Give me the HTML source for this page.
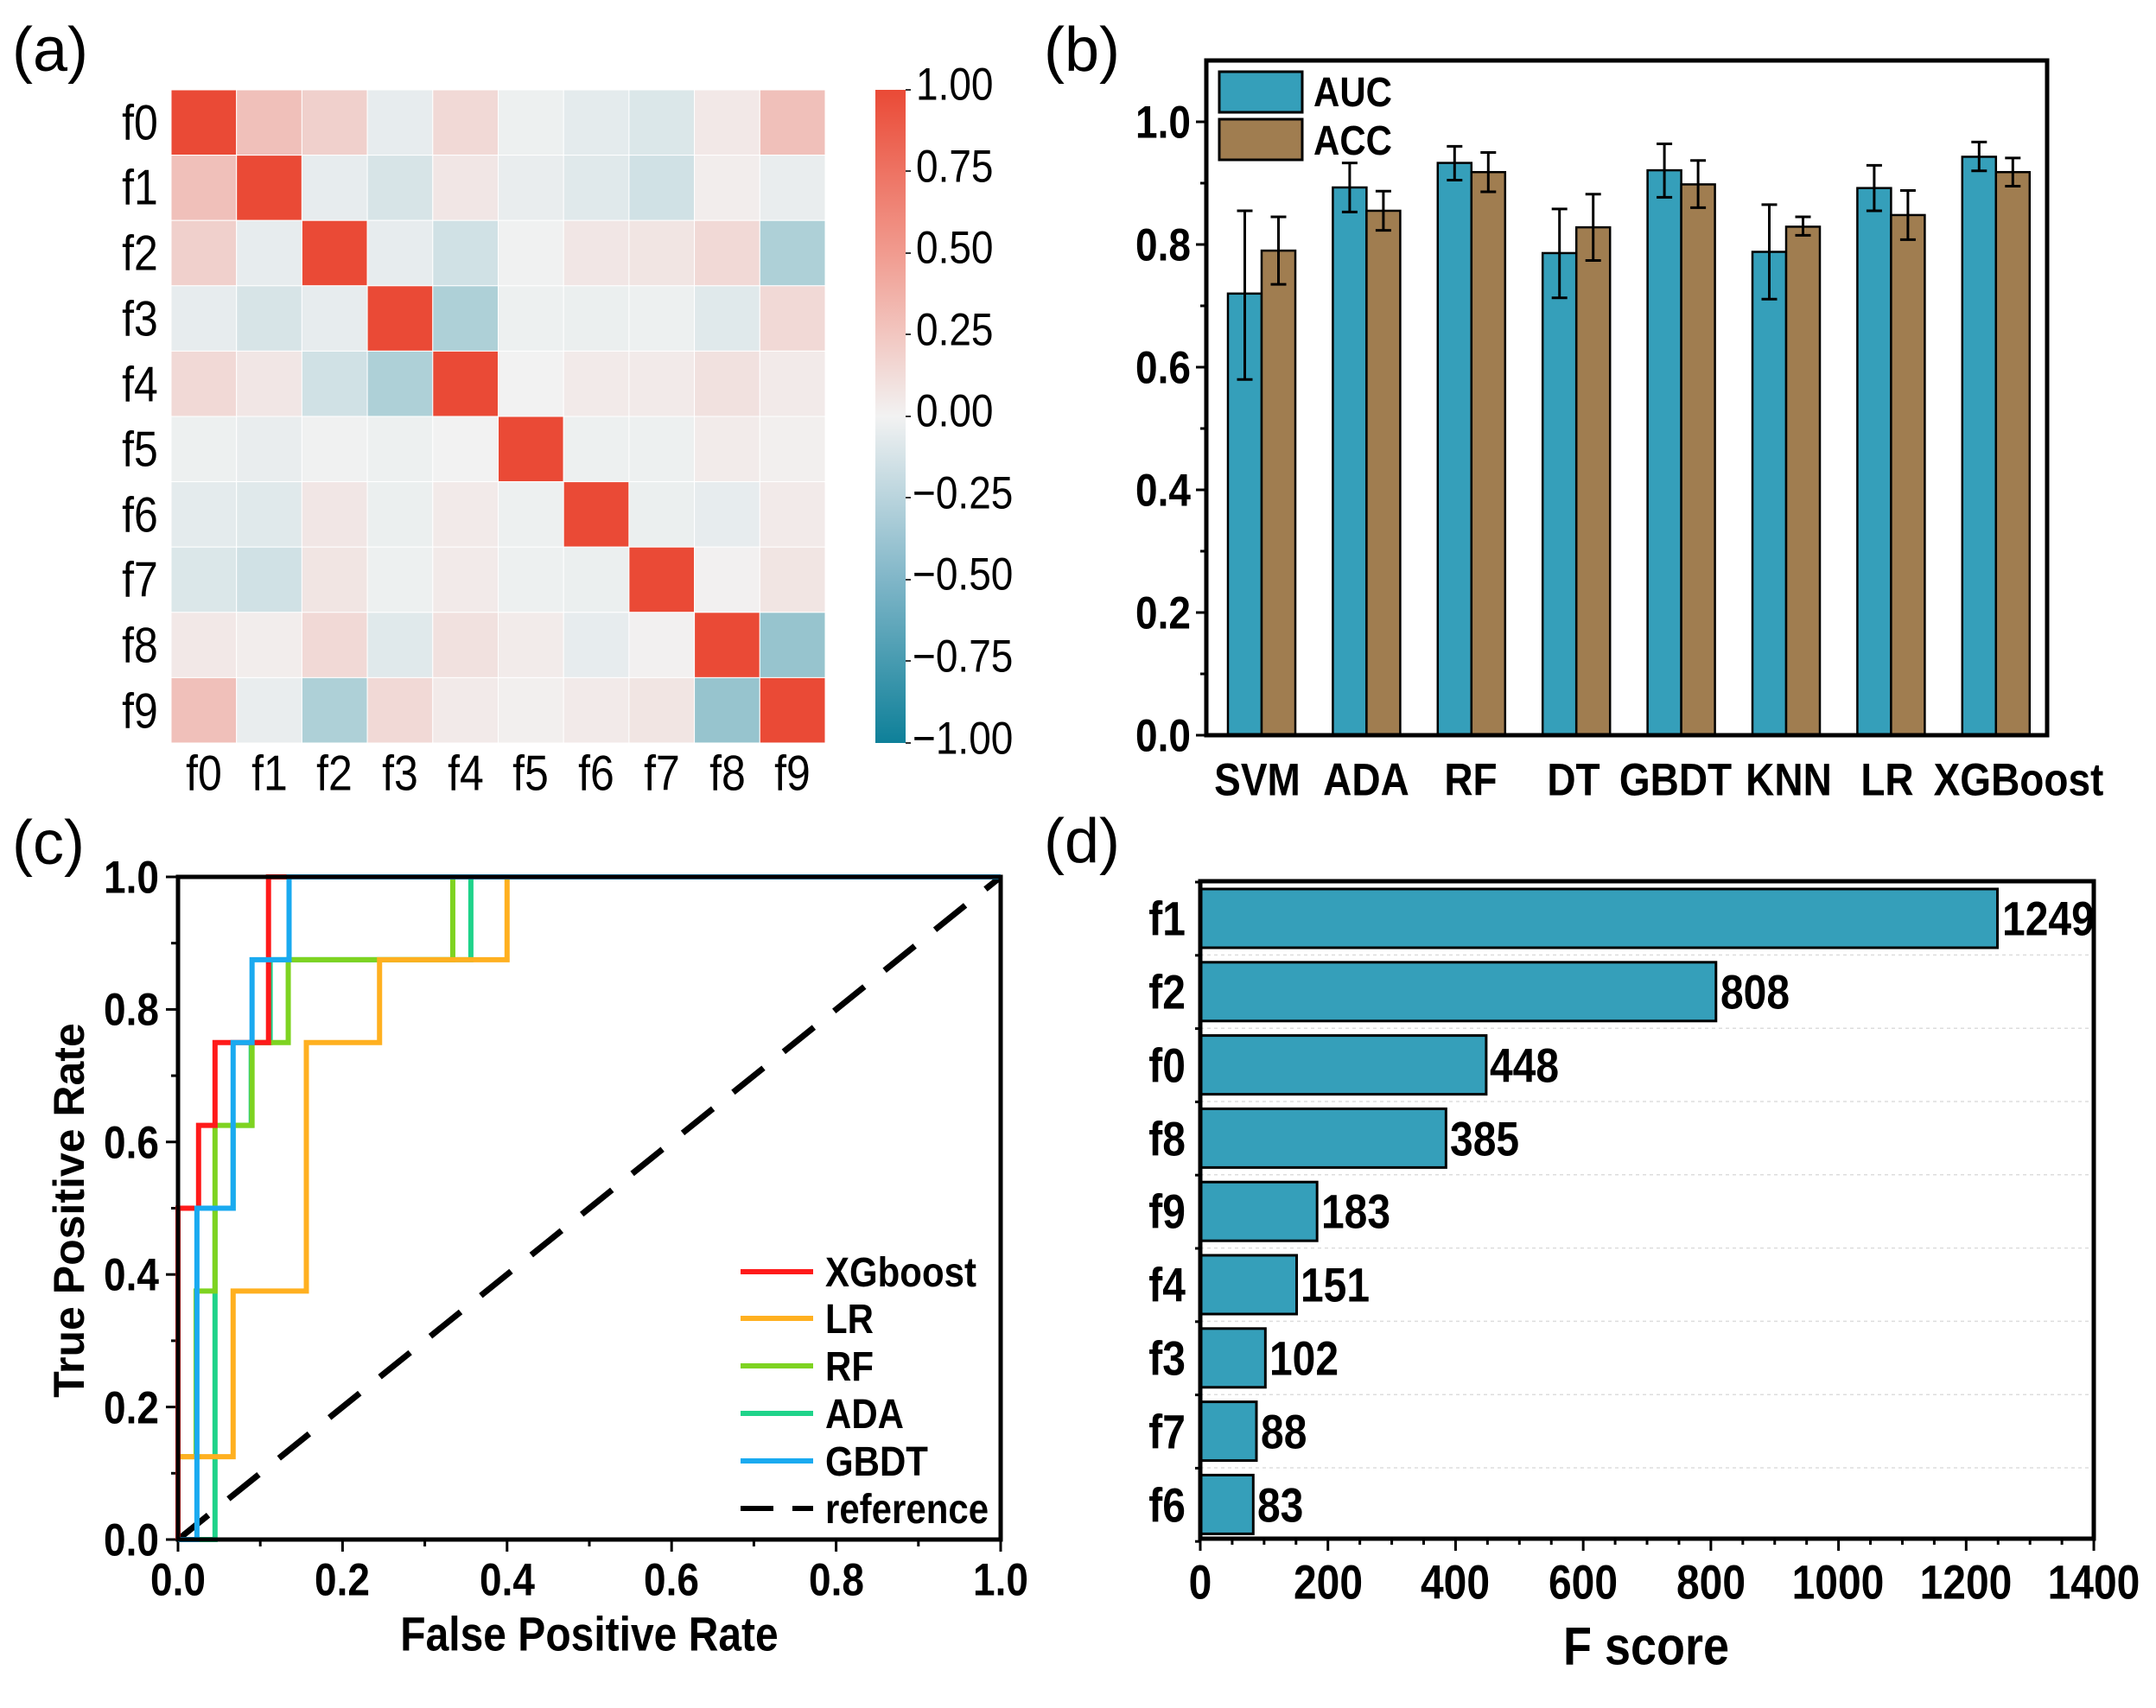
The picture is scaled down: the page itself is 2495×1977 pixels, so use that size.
<!DOCTYPE html>
<html><head><meta charset="utf-8"><style>
html,body{margin:0;padding:0;background:#fff}
svg{display:block}
text{font-family:"Liberation Sans",Arial,sans-serif}
.b{font-weight:bold}
svg text:not(.p):not(.r){transform-box:fill-box;transform-origin:center;transform:scaleY(1.15)}
</style></head><body>
<svg id="s" width="2495" height="1977" viewBox="0 0 2495 1977" xmlns="http://www.w3.org/2000/svg">
<defs>
<linearGradient id="cb" x1="0" y1="0" x2="0" y2="1">
<stop offset="0" stop-color="#ea4a36"/><stop offset="0.25" stop-color="#f19b8f"/>
<stop offset="0.5" stop-color="#f2f2f2"/><stop offset="0.75" stop-color="#80b6c8"/>
<stop offset="1" stop-color="#0e8099"/>
</linearGradient>
</defs>
<rect width="2495" height="1977" fill="#fff"/>
<!-- panel labels -->
<text class="p" x="14" y="82" font-size="72">(a)</text>
<text class="p" x="1208" y="82" font-size="72">(b)</text>
<text class="p" x="14" y="1000" font-size="72">(c)</text>
<text class="p" x="1208" y="998" font-size="72">(d)</text>

<!-- heatmap -->
<g id="hm"></g>
<g font-size="50" text-anchor="middle">
<text x="162" y="159">f0</text><text x="162" y="234">f1</text><text x="162" y="310">f2</text><text x="162" y="386">f3</text><text x="162" y="462">f4</text><text x="162" y="537">f5</text><text x="162" y="613">f6</text><text x="162" y="688">f7</text><text x="162" y="764">f8</text><text x="162" y="840">f9</text>
<text x="236" y="912">f0</text><text x="312" y="912">f1</text><text x="387" y="912">f2</text><text x="463" y="912">f3</text><text x="539" y="912">f4</text><text x="614" y="912">f5</text><text x="690" y="912">f6</text><text x="766" y="912">f7</text><text x="842" y="912">f8</text><text x="917" y="912">f9</text>
</g>
<rect x="1013" y="104" width="35" height="756" fill="url(#cb)"/>
<g font-size="46">
<text x="1060" y="113">1.00</text><text x="1060" y="208">0.75</text><text x="1060" y="302">0.50</text><text x="1060" y="397">0.25</text><text x="1060" y="491">0.00</text>
<text x="1056" y="586">−0.25</text><text x="1056" y="680">−0.50</text><text x="1056" y="775">−0.75</text><text x="1056" y="870">−1.00</text>
</g>
<g stroke="#333" stroke-width="2"><line x1="1048" y1="104" x2="1054" y2="104"/><line x1="1048" y1="198" x2="1054" y2="198"/><line x1="1048" y1="293" x2="1054" y2="293"/><line x1="1048" y1="387" x2="1054" y2="387"/><line x1="1048" y1="482" x2="1054" y2="482"/><line x1="1048" y1="576" x2="1054" y2="576"/><line x1="1048" y1="671" x2="1054" y2="671"/><line x1="1048" y1="765" x2="1054" y2="765"/><line x1="1048" y1="860" x2="1054" y2="860"/></g>

<!-- panel b -->
<g id="pb"></g>
<rect x="1396" y="70" width="973" height="781" fill="none" stroke="#000" stroke-width="5"/>
<g class="b" font-size="46" text-anchor="end">
<text x="1378" y="867">0.0</text><text x="1378" y="725">0.2</text><text x="1378" y="583">0.4</text><text x="1378" y="441">0.6</text><text x="1378" y="299">0.8</text><text x="1378" y="157">1.0</text>
</g>
<g class="b" font-size="46" text-anchor="middle">
<text x="1455" y="918">SVM</text><text x="1581" y="918">ADA</text><text x="1702" y="918">RF</text><text x="1821" y="918">DT</text><text x="1939" y="918">GBDT</text><text x="2070" y="918">KNN</text><text x="2184" y="918">LR</text><text x="2336" y="918">XGBoost</text>
</g>
<rect x="1411" y="83" width="96" height="47" fill="#359fba" stroke="#000" stroke-width="3"/>
<rect x="1411" y="138" width="96" height="47" fill="#a07d50" stroke="#000" stroke-width="3"/>
<text class="b" x="1520" y="121" font-size="42">AUC</text>
<text class="b" x="1520" y="177" font-size="42">ACC</text>

<!-- panel c -->
<g id="pc"></g>
<rect x="206" y="1015" width="952" height="767" fill="none" stroke="#000" stroke-width="5"/>
<g class="b" font-size="46" text-anchor="end">
<text x="184" y="1798">0.0</text><text x="184" y="1645">0.2</text><text x="184" y="1491">0.4</text><text x="184" y="1338">0.6</text><text x="184" y="1184">0.8</text><text x="184" y="1031">1.0</text>
</g>
<g class="b" font-size="46" text-anchor="middle">
<text x="206" y="1844">0.0</text><text x="396" y="1844">0.2</text><text x="587" y="1844">0.4</text><text x="777" y="1844">0.6</text><text x="968" y="1844">0.8</text><text x="1158" y="1844">1.0</text>
</g>
<text class="b" x="682" y="1908" font-size="48" text-anchor="middle">False Positive Rate</text>
<text class="b r" x="0" y="0" font-size="50" text-anchor="middle" transform="translate(97,1401) rotate(-90)">True Positive Rate</text>
<g stroke-width="6">
<line x1="857" y1="1472" x2="941" y2="1472" stroke="#ff1a1a"/>
<line x1="857" y1="1526" x2="941" y2="1526" stroke="#ffb020"/>
<line x1="857" y1="1581" x2="941" y2="1581" stroke="#7ed321"/>
<line x1="857" y1="1636" x2="941" y2="1636" stroke="#1fd38a"/>
<line x1="857" y1="1691" x2="941" y2="1691" stroke="#1aaaf0"/>
<line x1="857" y1="1746" x2="941" y2="1746" stroke="#000" stroke-dasharray="38 22"/>
</g>
<g class="b" font-size="42">
<text x="955" y="1487">XGboost</text><text x="955" y="1541">LR</text><text x="955" y="1596">RF</text><text x="955" y="1651">ADA</text><text x="955" y="1706">GBDT</text><text x="955" y="1761">reference</text>
</g>

<!-- panel d -->
<g id="pd"></g>
<rect x="1389" y="1020" width="1034" height="761" fill="none" stroke="#000" stroke-width="5"/>
<g class="b" font-size="48" text-anchor="end">
<text x="1372" y="1080">f1</text><text x="1372" y="1165">f2</text><text x="1372" y="1250">f0</text><text x="1372" y="1335">f8</text><text x="1372" y="1419">f9</text><text x="1372" y="1504">f4</text><text x="1372" y="1589">f3</text><text x="1372" y="1674">f7</text><text x="1372" y="1759">f6</text>
</g>
<g class="b" font-size="48">
<text x="2317" y="1080">1249</text><text x="1991" y="1165">808</text><text x="1724" y="1250">448</text><text x="1678" y="1335">385</text><text x="1529" y="1419">183</text><text x="1505" y="1504">151</text><text x="1469" y="1589">102</text><text x="1459" y="1674">88</text><text x="1455" y="1759">83</text>
</g>
<g class="b" font-size="48" text-anchor="middle">
<text x="1389" y="1848">0</text><text x="1537" y="1848">200</text><text x="1684" y="1848">400</text><text x="1832" y="1848">600</text><text x="1980" y="1848">800</text><text x="2127" y="1848">1000</text><text x="2275" y="1848">1200</text><text x="2423" y="1848">1400</text>
</g>
<text class="b" x="1905" y="1924" font-size="54" text-anchor="middle">F score</text>
</svg>
<script>
var NS="http://www.w3.org/2000/svg";
function el(p,t,a){var e=document.createElementNS(NS,t);for(var k in a)e.setAttribute(k,a[k]);p.appendChild(e);return e;}
var M=[[1,.3,.2,-.05,.15,-.02,-.06,-.1,.06,.3],[.3,1,-.05,-.12,.07,-.04,-.08,-.15,.03,-.04],[.2,-.05,1,-.05,-.15,-.01,.07,.08,.15,-.3],[-.05,-.12,-.05,1,-.3,-.02,-.03,-.02,-.08,.15],[.15,.07,-.15,-.3,1,0,.05,.05,.1,.05],[-.02,-.04,-.01,-.02,0,1,-.02,-.02,.04,.02],[-.06,-.08,.07,-.03,.05,-.02,1,-.03,-.05,.05],[-.1,-.15,.08,-.02,.05,-.02,-.03,1,.01,.08],[.06,.03,.15,-.08,.1,.04,-.05,.01,1,-.4],[.3,-.04,-.3,.15,.05,.02,.05,.08,-.4,1]];
function col(v){var a=[242,242,242],b=v>=0?[234,74,54]:[14,128,153],t=Math.abs(v);
return "rgb("+a.map(function(x,i){return Math.round(x+(b[i]-x)*t)}).join(",")+")";}
var hm=document.getElementById("hm");
for(var r=0;r<10;r++)for(var c=0;c<10;c++)el(hm,"rect",{x:198+c*75.7,y:104+r*75.6,width:75.7,height:75.6,fill:col(M[r][c]),stroke:"#fff","stroke-width":1});
var pb=document.getElementById("pb");function yb(v){return 851-710*v;}
var D=[[.72,.58,.855,.79,.735,.845],[.893,.853,.933,.855,.823,.887],[.933,.905,.96,.918,.886,.95],[.786,.713,.858,.828,.774,.882],[.921,.877,.964,.898,.86,.937],[.788,.711,.865,.829,.815,.845],[.892,.855,.929,.848,.808,.888],[.943,.92,.967,.918,.895,.941]];
D.forEach(function(d,i){var x=1421+121.4*i;
[[x,d[0],d[1],d[2],"#359fba"],[x+39,d[3],d[4],d[5],"#a07d50"]].forEach(function(b){
el(pb,"rect",{x:b[0],y:yb(b[1]),width:39,height:851-yb(b[1]),fill:b[4],stroke:"#000","stroke-width":2.5});
var cx=b[0]+19.5;el(pb,"line",{x1:cx,y1:yb(b[2]),x2:cx,y2:yb(b[3]),stroke:"#000","stroke-width":3});
[b[2],b[3]].forEach(function(v){el(pb,"line",{x1:cx-9,y1:yb(v),x2:cx+9,y2:yb(v),stroke:"#000","stroke-width":3});});});});
for(var k=0;k<=10;k++){var y=yb(k/10);el(pb,"line",{x1:k%2?1389:1384,y1:y,x2:1396,y2:y,stroke:"#000","stroke-width":3});}
var pc=document.getElementById("pc");function X(f){return 206+952*f}function Y(f){return 1782-767*f}
for(var k=0;k<=10;k++){el(pc,"line",{x1:X(k/10),y1:1782,x2:X(k/10),y2:k%2?1790:1796,stroke:"#000","stroke-width":3});el(pc,"line",{x1:k%2?198:192,y1:Y(k/10),x2:206,y2:Y(k/10),stroke:"#000","stroke-width":3});}
el(pc,"line",{x1:X(0),y1:Y(0),x2:X(1),y2:Y(1),stroke:"#000","stroke-width":7,"stroke-dasharray":"45 30"});
var C=[["#1fd38a",[[0,0],[.045,0],[.045,.5],[.067,.5],[.067,.625],[.089,.625],[.089,.75],[.112,.75],[.112,.875],[.356,.875],[.356,1],[1,1]]],
["#7ed321",[[0,0],[0,.125],[.022,.125],[.022,.375],[.045,.375],[.045,.625],[.09,.625],[.09,.75],[.134,.75],[.134,.875],[.334,.875],[.334,1],[1,1]]],
["#ffb020",[[0,0],[0,.125],[.067,.125],[.067,.375],[.156,.375],[.156,.75],[.245,.75],[.245,.875],[.4,.875],[.4,1],[1,1]]],
["#ff1a1a",[[0,0],[0,.5],[.025,.5],[.025,.625],[.045,.625],[.045,.75],[.11,.75],[.11,1],[1,1]]],
["#1aaaf0",[[0,0],[.023,0],[.023,.5],[.067,.5],[.067,.75],[.09,.75],[.09,.875],[.135,.875],[.135,1],[1,1]]]];
C.forEach(function(c){el(pc,"polyline",{points:c[1].map(function(p){return X(p[0])+","+Y(p[1])}).join(" "),fill:"none",stroke:c[0],"stroke-width":6});});
var pd=document.getElementById("pd");var V=[1249,808,448,385,183,151,102,88,83];
for(var i=0;i<9;i++){var yc=1063+84.8*i;
if(i<8)el(pd,"line",{x1:1389,y1:yc+42.4,x2:2423,y2:yc+42.4,stroke:"#ddd","stroke-width":1.5,"stroke-dasharray":"4 4"});
el(pd,"rect",{x:1389,y:yc-34,width:V[i]*0.7386,height:68,fill:"#359fba",stroke:"#000","stroke-width":3});}
for(var i=0;i<=9;i++){var y=1021+84.8*i;el(pd,"line",{x1:1383,y1:y,x2:1389,y2:y,stroke:"#000","stroke-width":3});}
for(var k=0;k<=28;k++){var x=1389+k*50*0.7386;el(pd,"line",{x1:x,y1:1781,x2:x,y2:k%4?1788:1795,stroke:"#000","stroke-width":3});}
</script>
</body></html>
